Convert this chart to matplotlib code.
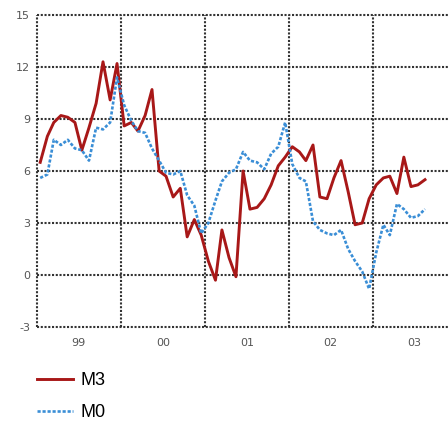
import numpy as np
import pandas as pd
import matplotlib
matplotlib.use("Agg")
import matplotlib.pyplot as plt
import matplotlib.dates as mdates

plt.rcParams["axes.unicode_minus"] = False

# monthly observations, Jan 1999 .. Aug 2003
months = pd.date_range("1999-01-01", periods=56, freq="MS") + pd.Timedelta(days=14)

m3 = [6.5, 8.0, 8.8, 9.2, 9.1, 8.8, 7.2, 8.5, 9.9, 12.3,
      10.1, 12.2, 8.6, 8.8, 8.3, 9.2, 10.7, 6.0, 5.7, 4.5,
      5.0, 2.2, 3.2, 2.3, 0.8, -0.3, 2.6, 1.0, -0.1, 6.0,
      3.8, 3.9, 4.4, 5.2, 6.3, 6.8, 7.4, 7.1, 6.6, 7.5,
      4.5, 4.4, 5.6, 6.6, 4.8, 2.9, 3.0, 4.4, 5.2, 5.6,
      5.7, 4.7, 6.8, 5.1, 5.2, 5.5]

m0 = [5.6, 5.8, 7.8, 7.5, 7.8, 7.3, 7.2, 6.6, 8.5, 8.4,
      8.8, 11.4, 9.8, 8.9, 8.3, 8.2, 7.3, 6.6, 5.9, 5.8,
      6.0, 4.6, 4.0, 2.4, 3.0, 4.3, 5.4, 5.9, 6.1, 7.1,
      6.6, 6.5, 6.1, 7.0, 7.4, 8.8, 6.4, 5.6, 5.4, 3.1,
      2.6, 2.4, 2.3, 2.6, 1.5, 0.8, 0.2, -0.8, 1.3, 2.9,
      2.3, 4.1, 3.8, 3.3, 3.4, 3.8]

year_labels = ["99", "00", "01", "02", "03"]
y_ticks = [-3, 0, 3, 6, 9, 12, 15]

fig = plt.figure(figsize=(4.48, 4.21), dpi=100)
ax = fig.add_axes([37 / 448, 1 - 327 / 421, 1 - 37 / 448, (327 - 15) / 421])

ax.plot(months, m3, color="#a81818", lw=2.1, label="M3", zorder=3)
ax.plot(months, m0, color="#3a8ed6", lw=1.9, ls=(0, (1.2, 0.7)), label="M0", zorder=3)

ax.set_xlim(pd.Timestamp("1999-01-01"), pd.Timestamp("2003-11-23"))
ax.set_ylim(-3, 15)

ax.xaxis.set_major_locator(mdates.YearLocator())
ax.xaxis.set_major_formatter(plt.NullFormatter())
mid_years = pd.date_range("1999-07-01", periods=5, freq="12MS")
ax.set_xticks(mdates.date2num(mid_years), year_labels, minor=True)
ax.set_yticks(y_ticks)

ax.tick_params(which="both", length=0, labelsize=8, labelcolor="#555555")
ax.tick_params(axis="x", which="minor", pad=8)
ax.tick_params(axis="y", pad=5)

ax.grid(which="major", color="#333333", lw=1.5, ls=(0, (1, 0.8)))
for gl in ax.get_xgridlines() + ax.get_ygridlines():
    gl.set_clip_on(False)
for s in ax.spines.values():
    s.set_visible(False)

fig.legend(loc="upper left", bbox_to_anchor=(37 / 448, 1 - 372 / 421),
           frameon=False, borderpad=0, borderaxespad=0,
           handlelength=2.0, handletextpad=0.4, labelspacing=0.85,
           prop={"family": "Liberation Sans", "size": 13})

fig.savefig("out.png", dpi=100)
